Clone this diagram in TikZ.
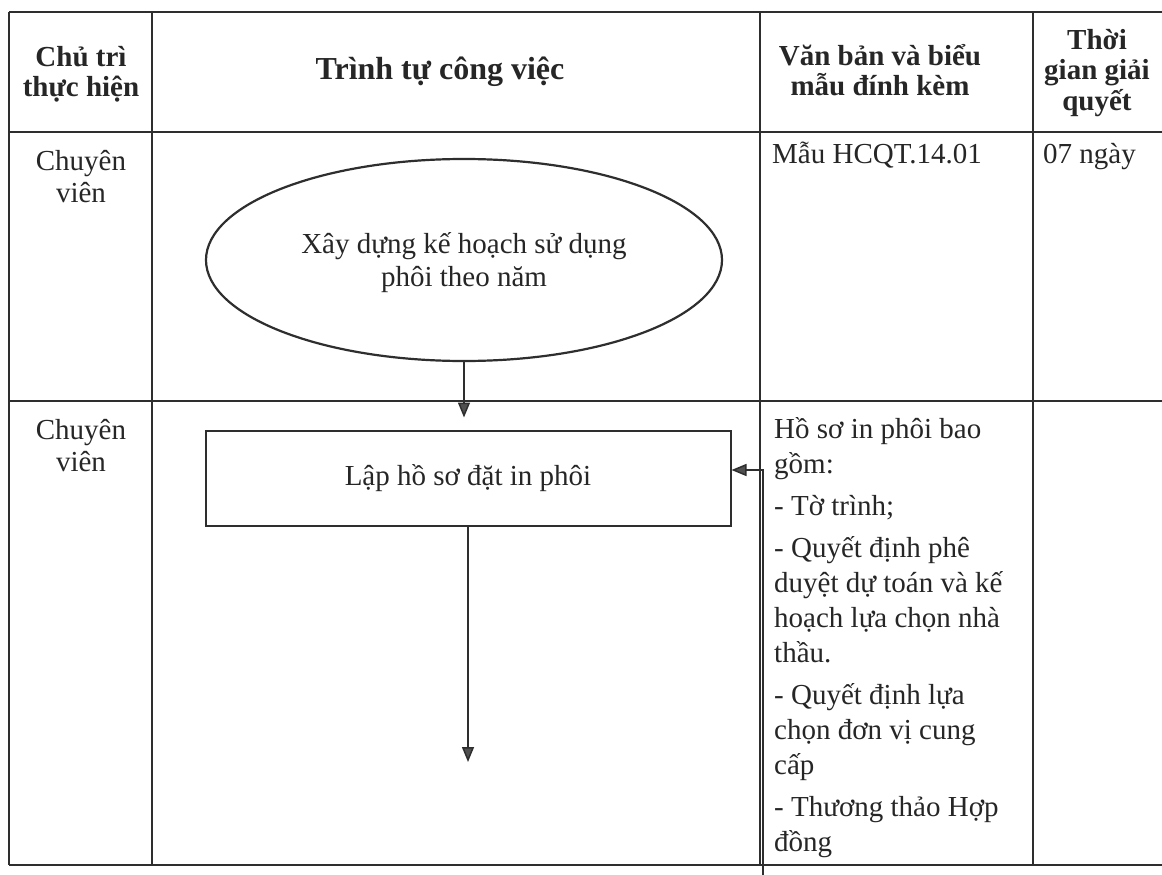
\documentclass[tikz,border=0pt]{standalone}
\usepackage{fontspec}
\setmainfont{Liberation Serif}
\usetikzlibrary{arrows.meta,shapes.geometric}
\lineskiplimit=-100pt
\definecolor{ink}{HTML}{2E2E2E}
\definecolor{txt}{HTML}{262626}
\definecolor{headfill}{HTML}{505050}
\newcommand\mystrut{\rule{0pt}{28pt}}
\newcommand\mydepth{\rule[-8pt]{0pt}{8pt}}
\begin{document}
\begin{tikzpicture}[x=1pt,y=-1pt,
  grid/.style={draw=ink, line width=1.4pt},
  hdr/.style={font=\bfseries\fontsize{29}{30.5}\selectfont, align=center, inner sep=0pt, text=txt},
  body/.style={font=\fontsize{29}{35}\selectfont, inner sep=0pt, text=txt},
  flowbox/.style={draw=ink, line width=2pt, rectangle, minimum width=525pt, minimum height=95pt, inner sep=0pt,
    font=\fontsize{29}{35}\selectfont, text=txt},
  flowell/.style={draw=ink, line width=2.2pt, ellipse, minimum width=516pt, minimum height=202pt, inner sep=0pt,
    align=center, font=\fontsize{29}{33}\selectfont, text=txt},
  conn/.style={draw=ink, line width=1.5pt, -{Triangle[length=15pt,width=12pt,fill=headfill]}},
]
\fill[white] (0,0) rectangle (1162,875);
\useasboundingbox (0,0) rectangle (1162,875);

% table grid
\draw[grid] (9,12) -- (1162,12);
\draw[grid] (9,132) -- (1162,132);
\draw[grid] (9,401) -- (1162,401);
\draw[grid] (9,865) -- (1162,865);
\draw[grid] (9,12) -- (9,865);
\draw[grid] (152,12) -- (152,865);
\draw[grid] (760,12) -- (760,865);
\draw[grid] (1033,12) -- (1033,865);

% header
\node[hdr, anchor=north] (h1) at (81,38) {\mystrut Chủ trì\\thực hiện};
\node[hdr, anchor=base, font=\bfseries\fontsize{32}{34}\selectfont] (h2) at (440,80) {Trình tự công việc};
\node[hdr, anchor=north] (h3) at (880,37) {\mystrut Văn bản và biểu\\mẫu đính kèm};
\node[hdr, anchor=north] (h4) at (1097,21) {\mystrut Thời\\gian giải\\quyết};

% row 1
\node[body, align=center, anchor=north, font=\fontsize{29}{32}\selectfont] (r1a) at (81,142) {\mystrut Chuyên\\viên};
\node[body, anchor=base west] (r1c) at (772,163) {Mẫu HCQT.14.01};
\node[body, anchor=base west] (r1d) at (1043,163) {07 ngày};
\node[flowell] (ell) at (464,260) {\mystrut Xây dựng kế hoạch sử dụng\\phôi theo năm\mydepth};

% row 2
\node[body, align=center, anchor=north, font=\fontsize{29}{32}\selectfont] (r2a) at (81,411) {\mystrut Chuyên\\viên};
\node[flowbox] (box) at (468,478) {Lập hồ sơ đặt in phôi};
\node[body, align=left, anchor=north west] (docs) at (774,410) {\mystrut Hồ sơ in phôi bao\\gồm:\\[7pt]- Tờ trình;\\[7pt]- Quyết định phê\\duyệt dự toán và kế\\hoạch lựa chọn nhà\\thầu.\\[7pt]- Quyết định lựa\\chọn đơn vị cung\\cấp\\[7pt]- Thương thảo Hợp\\đồng};

% connectors
\coordinate (end2) at (468,762);
\coordinate (src) at (763,875);
\coordinate (bend) at (763,470);
\draw[conn] (ell.south) -- ([yshift=12pt]box.north -| ell.south);
\draw[conn] (box.south) -- (end2);
\draw[conn] (src) -- (bend) -- (bend -| box.east);
\end{tikzpicture}
\end{document}
